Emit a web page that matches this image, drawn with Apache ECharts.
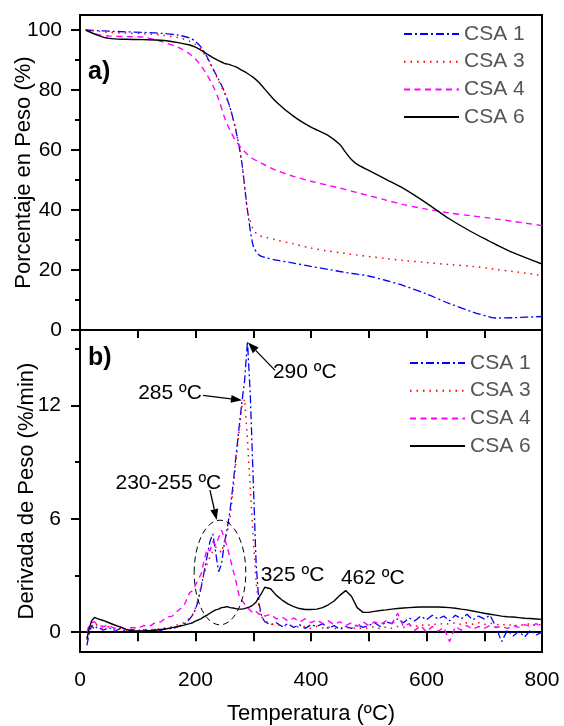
<!DOCTYPE html>
<html>
<head>
<meta charset="utf-8">
<script src="https://cdn.jsdelivr.net/npm/echarts@6/dist/echarts.min.js"></script>
<style>
  html, body { margin: 0; padding: 0; background: #fff; }
  #chart { width: 564px; height: 726px; }
</style>
</head>
<body>
<div id="chart"></div>
<script>
// a) TGA curves, weight % vs temperature
const tgaTemp = [10, 30, 50, 80, 110, 140, 170, 190, 200, 210, 220, 230, 240, 250, 260, 270, 280, 290, 300, 310, 320, 340, 370, 400, 430, 450, 460, 470, 480, 500, 530, 560, 600, 640, 680, 710, 720, 750, 800];
const tgaCSA1 = [100, 99.8, 99.6, 99.4, 99.2, 98.9, 98.3, 97.3, 96.2, 94.2, 91, 87.2, 83.5, 79.5, 74, 66.5, 56, 40, 28, 25, 24.2, 23.3, 22.3, 21.2, 20.2, 19.5, 19.2, 18.9, 18.6, 18, 16.5, 14.8, 12, 8.8, 6, 4.3, 4.0, 4.1, 4.5];
const tgaCSA3 = [100, 99.6, 99.2, 99, 98.8, 98.3, 97.5, 96.2, 95.2, 93.5, 90.5, 87, 83, 79, 74, 66.5, 56, 40, 33.5, 31.5, 31, 30, 28.7, 27.3, 26.3, 25.8, 25.5, 25.2, 25, 24.5, 23.8, 23.2, 22.5, 21.8, 21.2, 20.5, 20.2, 19.5, 18.2];
const tgaCSA4 = [100, 98.5, 98, 97.8, 97.6, 96.2, 94.2, 92, 90.3, 88, 85, 81.5, 77, 71, 66.5, 63, 60.5, 58.5, 57, 56, 55, 53.2, 51.2, 49.6, 48.2, 47.3, 46.8, 46.3, 45.8, 44.8, 43.3, 41.8, 40.3, 39, 38, 37.3, 37, 36.2, 34.8];
const tgaCSA6 = [100, 98.3, 97.2, 96.9, 96.8, 96.6, 95.8, 95, 94.3, 93.2, 92, 90.8, 89.8, 88.9, 88.4, 87.7, 86.6, 85.5, 84.2, 82.5, 80.3, 76, 71.2, 67.6, 64.8, 61.8, 59.2, 56.8, 55.2, 53.2, 50.2, 47.2, 42.3, 37, 32.5, 29.5, 28.5, 25.8, 22];

// b) DTG curves, %/min vs temperature
const dtgTemp = [12, 15, 20, 25, 30, 40, 50, 60, 70, 80, 90, 100, 110, 120, 130, 140, 150, 160, 170, 180, 190, 195, 200, 205, 210, 215, 220, 225, 230, 235, 240, 245, 250, 255, 260, 265, 270, 275, 280, 285, 290, 295, 300, 305, 310, 315, 320, 330, 340, 350, 360, 370, 380, 390, 400, 410, 420, 430, 440, 450, 460, 470, 480, 490, 500, 510, 520, 530, 540, 550, 560, 570, 580, 590, 600, 610, 620, 630, 640, 650, 660, 670, 680, 690, 700, 710, 720, 730, 740, 750, 760, 770, 780, 790, 800];
const dtgCSA1 = [-0.7, -0.2, 0.35, 0.15, 0.3, 0.1, 0.25, 0.05, 0.2, 0.02, 0.15, 0.05, 0.12, 0.08, 0.15, 0.1, 0.2, 0.18, 0.3, 0.42, 0.7, 0.9, 1.2, 1.7, 2.4, 3.2, 4.0, 4.8, 5.2, 4.2, 3.2, 3.6, 4.7, 5.5, 6.5, 7.8, 9.3, 10.7, 12.1, 13.3, 15.4, 12.5, 8.0, 3.6, 1.5, 0.8, 0.55, 0.4, 0.5, 0.3, 0.45, 0.25, 0.4, 0.2, 0.4, 0.3, 0.45, 0.2, 0.35, 0.15, 0.3, 0.2, 0.4, 0.25, 0.35, 0.5, 0.3, 0.55, 0.45, 0.7, 0.5, 0.75, 0.6, 0.85, 0.65, 0.9, 0.7, 0.85, 0.6, 0.9, 0.7, 0.95, 0.65, 0.85, 0.7, 0.9, 0.3, -0.5, 0.1, -0.2, 0.05, -0.25, 0.1, -0.15, 0.0];
const dtgCSA3 = [-0.3, 0.1, 0.3, 0.5, 0.35, 0.2, 0.3, 0.15, 0.22, 0.08, 0.12, 0.1, 0.15, 0.1, 0.2, 0.15, 0.25, 0.28, 0.4, 0.5, 0.75, 0.95, 1.3, 1.8, 2.5, 3.1, 3.6, 4.0, 4.3, 4.5, 4.4, 4.2, 4.8, 5.3, 6.1, 7.5, 9.0, 10.5, 11.9, 12.35, 10.2, 7.5, 5.0, 2.6, 1.3, 0.8, 0.6, 0.45, 0.35, 0.4, 0.3, 0.35, 0.25, 0.3, 0.2, 0.3, 0.22, 0.28, 0.18, 0.25, 0.2, 0.28, 0.15, 0.25, 0.2, 0.3, 0.18, 0.28, 0.2, 0.3, 0.25, 0.35, 0.3, 0.4, 0.32, 0.45, 0.38, 0.48, 0.42, 0.5, 0.4, 0.5, 0.42, 0.5, 0.4, 0.48, 0.42, 0.35, 0.45, 0.3, 0.42, 0.35, 0.48, 0.3, 0.45];
const dtgCSA4 = [0.0, 0.3, 0.5, 0.55, 0.4, 0.3, 0.35, 0.2, 0.3, 0.15, 0.25, 0.2, 0.35, 0.3, 0.5, 0.55, 0.8, 0.85, 1.15, 1.4, 2.1, 2.2, 2.5, 2.8, 3.1, 3.8, 4.4, 4.3, 4.8, 4.6, 5.0, 5.4, 5.0, 4.5, 3.9, 3.3, 2.7, 2.0, 1.7, 1.5, 1.3, 1.15, 1.0, 1.1, 0.95, 1.0, 0.85, 0.95, 0.7, 0.8, 0.6, 0.75, 0.55, 0.7, 0.5, 0.65, 0.45, 0.6, 0.4, 0.55, 0.35, 0.5, 0.3, 0.55, 0.35, 0.55, 0.4, 0.6, 0.45, 1.0, 0.3, 0.45, 0.1, 0.35, 0.0, 0.3, 0.05, 0.25, -0.5, 0.3, 0.1, 0.35, 0.15, 0.3, 0.2, 0.35, 0.25, 0.3, 0.2, 0.35, 0.25, 0.4, 0.3, 0.45, 0.25];
const dtgCSA6 = [-0.4, 0.1, 0.6, 0.78, 0.72, 0.62, 0.5, 0.38, 0.27, 0.15, 0.08, 0.06, 0.06, 0.08, 0.1, 0.14, 0.18, 0.24, 0.3, 0.37, 0.45, 0.5, 0.58, 0.65, 0.72, 0.82, 0.9, 1.0, 1.1, 1.18, 1.22, 1.3, 1.32, 1.35, 1.3, 1.28, 1.25, 1.22, 1.22, 1.25, 1.3, 1.35, 1.45, 1.6, 1.85, 2.1, 2.38, 2.3, 1.95, 1.7, 1.5, 1.35, 1.25, 1.2, 1.2, 1.22, 1.3, 1.45, 1.65, 1.95, 2.2, 1.9, 1.3, 1.05, 1.05, 1.1, 1.15, 1.18, 1.22, 1.25, 1.28, 1.3, 1.32, 1.33, 1.33, 1.33, 1.33, 1.32, 1.3, 1.27, 1.22, 1.18, 1.12, 1.06, 1.0, 0.95, 0.9, 0.85, 0.82, 0.8, 0.77, 0.74, 0.72, 0.7, 0.68];

const names = ['CSA 1', 'CSA 3', 'CSA 4', 'CSA 6'];
const tgaSets = [tgaCSA1, tgaCSA3, tgaCSA4, tgaCSA6];
const dtgSets = [dtgCSA1, dtgCSA3, dtgCSA4, dtgCSA6];

const lineStyles = [
  { color: '#0000ff', type: [8, 3, 2, 3], width: 1.3 },
  { color: '#ff0000', type: [1.5, 5], width: 1.5 },
  { color: '#ff00ff', type: [6, 4.5], width: 1.4 },
  { color: '#000000', type: 'solid', width: 1.4 }
];

const font = 'Liberation Sans';
const pairs = (xs, ys) => xs.map((x, i) => [x, ys[i]]);

const chart = echarts.init(document.getElementById('chart'));

const axisLine = { show: true, lineStyle: { color: '#000', width: 2 } };
const tickStyle = { color: '#000', width: 2 };

const series = [];
names.forEach((n, i) => {
  series.push({
    name: n, type: 'line', xAxisIndex: 0, yAxisIndex: 0,
    data: pairs(tgaTemp, tgaSets[i]), symbol: 'none', smooth: 0.3,
    lineStyle: lineStyles[i], itemStyle: { color: lineStyles[i].color }
  });
});
names.forEach((n, i) => {
  series.push({
    name: n, type: 'line', xAxisIndex: 1, yAxisIndex: 2,
    data: pairs(dtgTemp, dtgSets[i]), symbol: 'none',
    lineStyle: lineStyles[i], itemStyle: { color: lineStyles[i].color }
  });
});

const legendBase = {
  orient: 'vertical', data: names, itemWidth: 55, itemHeight: 14, itemGap: 5.7,
  padding: 0, selectedMode: false,
  itemStyle: { opacity: 0 },
  textStyle: { fontFamily: font, fontSize: 21, color: '#555', lineHeight: 22 }
};

chart.setOption({
  animation: false,
  grid: [
    { left: 80, right: 22, top: 15, height: 315, show: true, borderColor: '#000', borderWidth: 2 },
    { left: 80, right: 22, top: 330, height: 322, show: true, borderColor: '#000', borderWidth: 2 }
  ],
  legend: [
    Object.assign({ left: 403, top: 23 }, legendBase),
    Object.assign({ left: 409, top: 352 }, legendBase)
  ],
  xAxis: [
    {
      type: 'value', gridIndex: 0, min: 0, max: 800, interval: 100,
      axisLine: axisLine, axisTick: { length: 8, lineStyle: tickStyle },
      axisLabel: { show: false }, splitLine: { show: false }
    },
    {
      type: 'value', gridIndex: 1, min: 0, max: 800, interval: 100,
      axisLine: axisLine, axisTick: { length: 9, lineStyle: tickStyle },
      axisLabel: {
        fontFamily: font, fontSize: 21, color: '#000', margin: 18,
        formatter: v => (v % 200 === 0 ? v : '')
      },
      splitLine: { show: false },
      name: 'Temperatura (ºC)', nameLocation: 'middle', nameGap: 51, nameMoveOverlap: false,
      nameTextStyle: { fontFamily: font, fontSize: 22, color: '#000' }
    }
  ],
  yAxis: [
    {
      type: 'value', gridIndex: 0, position: 'left', min: 0, max: 105,
      axisLine: axisLine,
      axisTick: { length: 9, lineStyle: tickStyle, customValues: [0, 20, 40, 60, 80, 100] },
      axisLabel: { fontFamily: font, fontSize: 21, color: '#000', margin: 18, customValues: [0, 20, 40, 60, 80, 100] },
      splitLine: { show: false },
      name: 'Porcentaje en Peso (%)', nameLocation: 'middle', nameGap: 45, nameMoveOverlap: false,
      nameTextStyle: { fontFamily: font, fontSize: 22, color: '#000' }
    },
    {
      type: 'value', gridIndex: 0, position: 'left', offset: 0, min: 0, max: 105,
      axisLine: { show: false },
      axisTick: { length: 5, lineStyle: tickStyle, customValues: [10, 30, 50, 70, 90] },
      axisLabel: { show: false }, splitLine: { show: false }
    },
    {
      type: 'value', gridIndex: 1, position: 'left', min: -1.05, max: 16,
      axisLine: axisLine,
      axisTick: { length: 9, lineStyle: tickStyle, customValues: [0, 6, 12] },
      axisLabel: { fontFamily: font, fontSize: 21, color: '#000', margin: 19, customValues: [0, 6, 12] },
      splitLine: { show: false },
      name: 'Derivada de Peso (%/min)', nameLocation: 'middle', nameGap: 42, nameMoveOverlap: false,
      nameTextStyle: { fontFamily: font, fontSize: 22, color: '#000' }
    },
    {
      type: 'value', gridIndex: 1, position: 'left', offset: 0, min: -1.05, max: 16,
      axisLine: { show: false },
      axisTick: { length: 5, lineStyle: tickStyle, customValues: [3, 9, 15] },
      axisLabel: { show: false }, splitLine: { show: false }
    }
  ],
  series: series
});

// annotations, placed in data coordinates of panel b)
const peakLabels = [
  { text: '290 ºC', x: 334, y: 13.76, align: 'left' },
  { text: '285 ºC', x: 211, y: 12.65, align: 'right' },
  { text: '230-255 ºC', x: 153, y: 7.9, align: 'center' },
  { text: '325 ºC', x: 368, y: 3.03, align: 'center' },
  { text: '462 ºC', x: 507, y: 2.87, align: 'center' }
];
const peakArrows = [
  [337.7, 13.86, 291, 15.34],
  [213, 12.54, 280.5, 12.28],
  [225, 7.52, 236.7, 5.94]
];
const ring = { x: 242.4, y: 3.16, rx: 44.7, ry: 2.77 };

const bx = v => chart.convertToPixel({ xAxisIndex: 1 }, v);
const by = v => chart.convertToPixel({ yAxisIndex: 2 }, v);

function arrow(x1, y1, x2, y2) {
  const a = Math.atan2(y2 - y1, x2 - x1);
  const len = 11, w = 4;
  const hx = x2 - len * Math.cos(a), hy = y2 - len * Math.sin(a);
  return [
    { type: 'line', z: 100, shape: { x1: x1, y1: y1, x2: hx, y2: hy }, style: { stroke: '#000', lineWidth: 1.3 } },
    {
      type: 'polygon', z: 100,
      shape: { points: [[x2, y2], [hx + w * Math.sin(a), hy - w * Math.cos(a)], [hx - w * Math.sin(a), hy + w * Math.cos(a)]] },
      style: { fill: '#000' }
    }
  ];
}

let graphics = [];
peakLabels.forEach(p => {
  graphics.push({
    type: 'text', z: 100, x: bx(p.x), y: by(p.y),
    style: { text: p.text, fontFamily: font, fontSize: 21, fill: '#000', align: p.align, verticalAlign: 'middle' }
  });
});
peakArrows.forEach(a => {
  graphics = graphics.concat(arrow(bx(a[0]), by(a[1]), bx(a[2]), by(a[3])));
});
graphics.push({
  type: 'ellipse', z: 100,
  shape: { cx: bx(ring.x), cy: by(ring.y), rx: bx(ring.x + ring.rx) - bx(ring.x), ry: by(ring.y) - by(ring.y + ring.ry) },
  style: { fill: 'none', stroke: '#000', lineWidth: 1, lineDash: [6, 4] }
});

// panel tags
graphics.push({
  type: 'text', z: 100,
  x: chart.convertToPixel({ xAxisIndex: 0 }, 14), y: chart.convertToPixel({ yAxisIndex: 0 }, 86),
  style: { text: 'a)', fontFamily: font, fontSize: 25, fontWeight: 'bold', fill: '#000', align: 'left', verticalAlign: 'middle' }
});
graphics.push({
  type: 'text', z: 100,
  x: bx(14), y: by(14.5),
  style: { text: 'b)', fontFamily: font, fontSize: 25, fontWeight: 'bold', fill: '#000', align: 'left', verticalAlign: 'middle' }
});

chart.setOption({ graphic: graphics });
</script>
</body>
</html>
